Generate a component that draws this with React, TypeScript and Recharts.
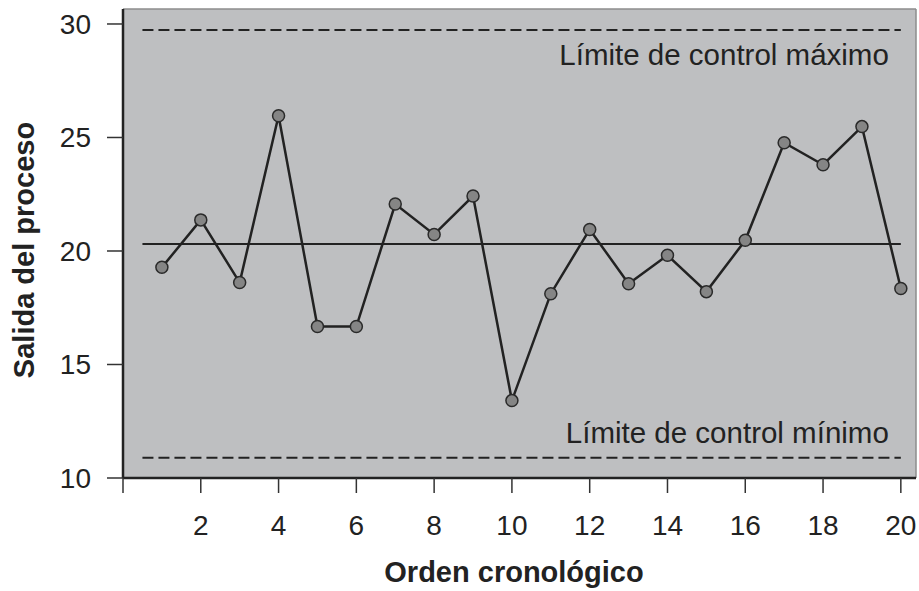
import React from 'react';
import {
  ComposedChart,
  Line,
  XAxis,
  YAxis,
  CartesianGrid,
  ReferenceLine,
} from 'recharts';

const orden = [1, 2, 3, 4, 5, 6, 7, 8, 9, 10, 11, 12, 13, 14, 15, 16, 17, 18, 19, 20];
const salida = [19.28, 21.37, 18.61, 25.96, 16.67, 16.67, 22.07, 20.73, 22.42, 13.41, 18.12, 20.95, 18.56, 19.81, 18.21, 20.47, 24.77, 23.8, 25.48, 18.35];
const xTicks = [0, 2, 4, 6, 8, 10, 12, 14, 16, 18, 20];
const yTicks = [10, 15, 20, 25, 30];
const limiteMax = 29.74;
const lineaCentral = 20.31;
const limiteMin = 10.89;
const lineaInicio = 0.5;
const lineaFin = 20;
const xDomain = [0, 20.39];
const yDomain = [10, 30.66];
const etiquetaMax = 'Límite de control máximo';
const etiquetaMin = 'Límite de control mínimo';

const data = orden.map((o, i) => ({ orden: o, salida: salida[i] }));

const FONT = '"Liberation Sans", Arial, Helvetica, sans-serif';

const makeLimitLabel = (text: string, dy: number) => (props: any) => {
  const vb = props.viewBox || {};
  return (
    <text
      x={vb.x + vb.width - 12}
      y={vb.y + dy}
      textAnchor="end"
      fontFamily={FONT}
      fontSize={29.5}
      fill="#222"
    >
      {text}
    </text>
  );
};

const YTitle = () => {
  const cy = 250;
  const x = 34;
  return (
    <text
      x={x}
      y={cy}
      transform={`rotate(-90, ${x}, ${cy})`}
      textAnchor="middle"
      fontFamily={FONT}
      fontSize={29}
      fontWeight="bold"
      fill="#222"
    >
      Salida del proceso
    </text>
  );
};

const XTitle = () => {
  return (
    <text
      x={514}
      y={582}
      textAnchor="middle"
      fontFamily={FONT}
      fontSize={29}
      fontWeight="bold"
      fill="#222"
    >
      Orden cronológico
    </text>
  );
};

export default function App() {
  return (
    <div style={{ position: 'absolute', left: 0, top: 0, background: '#fff' }}>
      <ComposedChart
        width={919}
        height={591}
        data={data}
        margin={{ top: 9, right: 3, left: 0, bottom: 0 }}
      >
        <CartesianGrid
          horizontal={false}
          vertical={false}
          fill="#bebfc1"
        />
        <ReferenceLine y={yDomain[1]} stroke="#8c8c8c" strokeWidth={1.5} />
        <ReferenceLine x={xDomain[1]} stroke="#8c8c8c" strokeWidth={1.5} />
        <XAxis
          type="number"
          dataKey="orden"
          domain={xDomain}
          ticks={xTicks}
          allowDataOverflow
          height={113}
          tickSize={15}
          tickMargin={22}
          tickFormatter={(v: number) => (v === 0 ? '' : String(v))}
          axisLine={{ stroke: '#222', strokeWidth: 2.5 }}
          tickLine={{ stroke: '#333', strokeWidth: 1.5 }}
          tick={{ fontFamily: FONT, fontSize: 28, fill: '#222' }}
          label={XTitle}
        />
        <YAxis
          type="number"
          domain={yDomain}
          ticks={yTicks}
          allowDataOverflow
          width={123}
          tickSize={16}
          tickMargin={16}
          axisLine={{ stroke: '#222', strokeWidth: 2.5 }}
          tickLine={{ stroke: '#333', strokeWidth: 1.5 }}
          tick={{ fontFamily: FONT, fontSize: 28, fill: '#222' }}
          label={YTitle}
        />
        <ReferenceLine
          segment={[{ x: lineaInicio, y: limiteMax }, { x: lineaFin, y: limiteMax }]}
          stroke="#222"
          strokeWidth={2}
          strokeDasharray="11 5"
          label={makeLimitLabel(etiquetaMax, 35)}
        />
        <ReferenceLine
          segment={[{ x: lineaInicio, y: limiteMin }, { x: lineaFin, y: limiteMin }]}
          stroke="#222"
          strokeWidth={2}
          strokeDasharray="11 5"
          label={makeLimitLabel(etiquetaMin, -15)}
        />
        <ReferenceLine
          segment={[{ x: lineaInicio, y: lineaCentral }, { x: lineaFin, y: lineaCentral }]}
          stroke="#222"
          strokeWidth={2}
        />
        <Line
          type="linear"
          dataKey="salida"
          stroke="#222"
          strokeWidth={2.5}
          dot={{ r: 6, fill: '#858585', stroke: '#2a2a2a', strokeWidth: 1.5 }}
          activeDot={false}
          isAnimationActive={false}
        />
      </ComposedChart>
    </div>
  );
}
